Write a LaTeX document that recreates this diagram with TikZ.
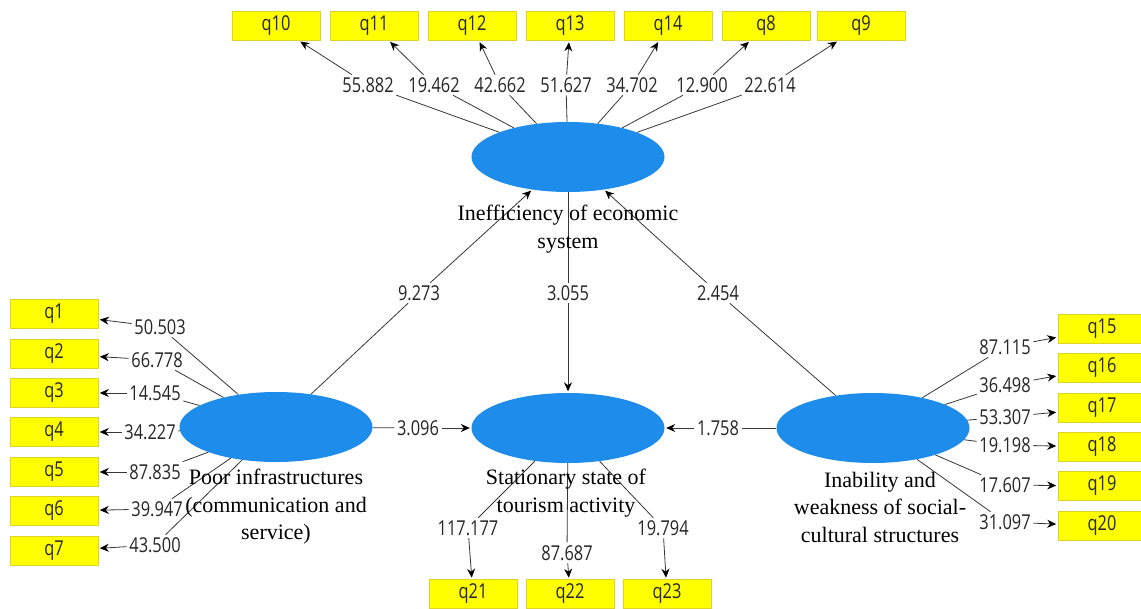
\documentclass[tikz,border=0pt]{standalone}
\usepackage{fontspec}
\setmainfont{Liberation Serif}
\newfontfamily\numfont[FakeStretch=0.8]{Open Sans}
\usetikzlibrary{shapes.geometric,arrows.meta}
\definecolor{lvblue}{RGB}{30,140,235}
\definecolor{indyellow}{RGB}{255,255,0}
\definecolor{indedge}{RGB}{222,212,40}
\definecolor{lncol}{RGB}{55,55,55}
\tikzset{
  lv/.style={ellipse, fill=lvblue, minimum width=193pt, minimum height=70pt, inner sep=0pt},
  ind/.style={rectangle, fill=indyellow, draw=indedge, line width=0.6pt, minimum width=88pt, minimum height=29pt, inner sep=0pt, font=\numfont\fontsize{20.5}{24}\selectfont, text=black!85},
  num/.style={inner sep=2.5pt, font=\numfont\fontsize{20.5}{24}\selectfont, text=black!85},
  lbl/.style={align=center, font=\fontsize{22}{27.5}\selectfont, text=black},
  ln/.style={draw=lncol, line width=0.8pt},
  arr/.style={ln, -{Stealth[length=9pt,width=8pt,black]}, shorten >=1.5pt},
}
\begin{document}
\begin{tikzpicture}[x=1pt,y=-1pt]
\fill[white] (0,0) rectangle (1141,608);
\useasboundingbox (0,0) rectangle (1141,608);
\begin{scope}
\clip (0,0) rectangle (1141,608);
% latent variables
\node[lv] (E) at (568,157) {};
\node[lv] (S) at (568,428) {};
\node[lv] (P) at (276,427) {};
\node[lv] (I) at (873,428) {};

% top indicators
\foreach \q/\bx/\t/\lx in {q10/276/55.882/368, q11/374/19.462/434, q12/472/42.662/500, q13/570/51.627/566, q14/668/34.702/632, q8/766/12.900/702, q9/861/22.614/770} {
  \node[ind] (\q) at (\bx,26) {\q};
  \node[num] (n\q) at (\lx,85) {\t};
  \draw[ln] (E) -- (n\q);
  \draw[arr] (n\q) -- (\q);
}
% left indicators
\foreach \q/\by/\t/\lx/\ly in {q1/314/50.503/160/327, q2/354/66.778/157/360, q3/393/14.545/155/393, q4/432/34.227/150/432, q5/472/87.835/155/472, q6/511/39.947/157/509, q7/551/43.500/155/545} {
  \node[ind] (\q) at (54,\by) {\q};
  \node[num] (n\q) at (\lx,\ly) {\t};
  \draw[ln] (P) -- (n\q);
  \draw[arr] (n\q) -- (\q);
}
% right indicators
\foreach \q/\by/\t/\ly in {q15/329/87.115/347, q16/368/36.498/385, q17/408/53.307/417, q18/447/19.198/445, q19/486/17.607/485, q20/526/31.097/522} {
  \node[ind] (\q) at (1102,\by) {\q};
  \node[num] (n\q) at (1005,\ly) {\t};
  \draw[ln] (I) -- (n\q);
  \draw[arr] (n\q) -- (\q);
}
% bottom indicators
\foreach \q/\bx/\t/\lx/\ly in {q21/473/117.177/468/528, q22/570/87.687/567/553, q23/667/19.794/663/528} {
  \node[ind] (\q) at (\bx,594) {\q};
  \node[num] (n\q) at (\lx,\ly) {\t};
  \draw[ln] (S) -- (n\q);
  \draw[arr] (n\q) -- (\q);
}

% structural paths
\node[num] (pe) at (419,293) {9.273};
\node[num] (es) at (568,293) {3.055};
\node[num] (ie) at (718,293) {2.454};
\node[num] (ps) at (418,428) {3.096};
\node[num] (is) at (718,428) {1.758};
\draw[ln] (P) -- (pe);  \draw[arr] (pe) -- (E);
\draw[ln] (E) -- (es);  \draw[arr] (es) -- (S);
\draw[ln] (I) -- (ie);  \draw[arr] (ie) -- (E);
\draw[ln] (P) -- (ps);  \draw[arr] (ps) -- (S);
\draw[ln] (I) -- (is);  \draw[arr] (is) -- (S);

% construct names
\node[lbl] (lE) at (568,229) {Inefficiency of economic\\system};
\node[lbl] (lP) at (276,507) {Poor infrastructures\\(communication and\\service)};
\node[lbl] (lS) at (566,493) {Stationary state of\\tourism activity};
\node[lbl] (lI) at (880,507) {Inability and\\weakness of social-\\cultural structures};
\end{scope}
\end{tikzpicture}
\end{document}
